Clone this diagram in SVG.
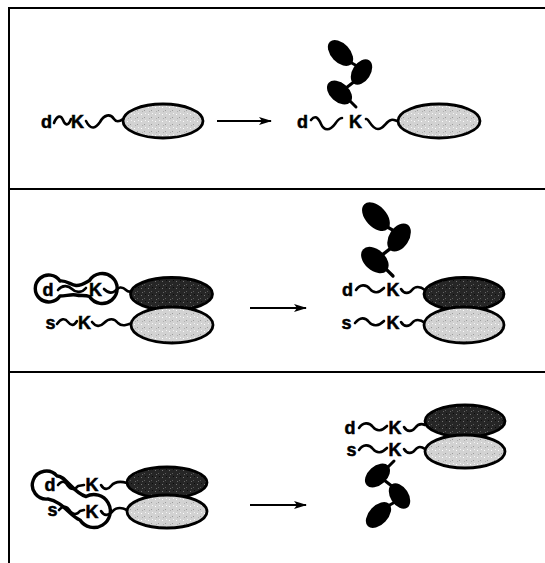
<svg xmlns="http://www.w3.org/2000/svg" width="545" height="563" viewBox="0 0 545 563">
  <style>
    .t { font-family: "Liberation Sans", Arial, sans-serif; font-weight: bold; font-size: 18px; fill: #000; stroke: #000; stroke-width: 0.5; }
    .w { fill: none; stroke: #000; stroke-width: 2.6; stroke-linecap: round; stroke-linejoin: round; }
    .light { fill: url(#stipL); stroke: #000; stroke-width: 2.8; }
    .dark { fill: url(#stipD); stroke: #000; stroke-width: 2.8; }
    .loop { fill: #fff; stroke: #000; stroke-width: 3.4; stroke-linejoin: round; }
    .frame { stroke: #000; stroke-width: 2; fill: none; }
    .arrow { stroke: #000; stroke-width: 2; fill: none; }
  </style>
  <defs>
    <pattern id="stipL" width="7" height="7" patternUnits="userSpaceOnUse">
      <rect width="7" height="7" fill="#d2d2d2"/>
      <rect x="1" y="2" width="1" height="1" fill="#fff"/>
      <rect x="4" y="5" width="1" height="1" fill="#9c9c9c"/>
      <rect x="5" y="1" width="1" height="1" fill="#f4f4f4"/>
      <rect x="2" y="6" width="1" height="1" fill="#b0b0b0"/>
    </pattern>
    <pattern id="stipD" width="7" height="7" patternUnits="userSpaceOnUse">
      <rect width="7" height="7" fill="#262626"/>
      <rect x="1" y="1" width="1" height="1" fill="#727272"/>
      <rect x="4" y="4" width="1" height="1" fill="#5a5a5a"/>
      <rect x="5" y="0" width="1" height="1" fill="#0c0c0c"/>
      <rect x="2" y="5" width="1" height="1" fill="#666"/>
    </pattern>
    <marker id="head" viewBox="0 0 13 8" refX="12" refY="4" markerWidth="13" markerHeight="8" markerUnits="userSpaceOnUse" orient="auto">
      <path d="M0,0 L13,4 L0,8 L3,4 Z" fill="#000"/>
    </marker>
    <!-- oligosaccharide chain: three sugar units on a stalk, origin at the stalk end -->
    <g id="chain">
      <line x1="0" y1="0" x2="-7" y2="-7" stroke="#000" stroke-width="3" stroke-linecap="round"/>
      <line x1="-10" y1="-19" x2="-1" y2="-26" stroke="#000" stroke-width="3"/>
      <line x1="-6" y1="-45" x2="1" y2="-41" stroke="#000" stroke-width="3"/>
      <ellipse cx="0" cy="0" rx="14.5" ry="9.5" transform="translate(-16.5,-14.5) rotate(42)" fill="#000"/>
      <ellipse cx="0" cy="0" rx="14" ry="9" transform="translate(5.5,-35) rotate(-57)" fill="#000"/>
      <ellipse cx="0" cy="0" rx="15.5" ry="9.5" transform="translate(-15.5,-54) rotate(47)" fill="#000"/>
    </g>
  </defs>

  <rect width="545" height="563" fill="#fff"/>

  <!-- frame and panel dividers -->
  <g id="frame">
    <line class="frame" x1="8" y1="8" x2="545" y2="8"/>
    <line class="frame" x1="9" y1="8" x2="9" y2="563"/>
    <line class="frame" x1="9" y1="189" x2="545" y2="189"/>
    <line class="frame" x1="9" y1="372" x2="545" y2="372"/>
  </g>

  <!-- panel 1 -->
  <g id="p1-left">
    <path class="w" d="M54,123 C57,115 61,115 63,120 C65,125 68,127 71,119"/>
    <path class="w" d="M86,121 C91,131 96,128 100,122 C104,115 110,113 114,119 C116,122 119,122 123,119"/>
    <ellipse class="light" cx="163" cy="121" rx="40" ry="17"/>
    <text class="t" x="41" y="127.5">d</text>
    <text class="t" x="71" y="127.5">K</text>
  </g>
  <g id="p1-right">
    <path class="w" d="M311,120 C315,115 318,117 321,124 C324,131 330,131 335,124 C337,121 339,118 342,118"/>
    <path class="w" d="M366,119 C369,118 371,129 378,129 C384,129 386,121 391,120 C394,119 396,121 398,121"/>
    <ellipse class="light" cx="439" cy="121" rx="41" ry="17"/>
    <text class="t" x="297" y="127.5">d</text>
    <text class="t" x="349" y="127.5">K</text>
    <use href="#chain" transform="translate(356,107)"/>
  </g>

  <!-- panel 2 -->
  <g id="p2-left">
    <path class="loop" d="M60,281 C66,280 71,285 76,285.5 C81,286 85,283 89.5,280.5 A15,15 0 1 1 89.5,296.5 C85,295 81,296 76,295 C71,294 66,296 60,296 A13.5,13.5 0 1 1 60,281 Z"/>
    <path class="w" d="M58,290 C62,285 68,285 72,289 C76,293 82,293 86,288"/>
    <path class="w" d="M104,289 C107,292 111,294 115,291 C118,287 122,286 126,290 C128,292 130,292 132,291"/>
    <ellipse class="dark" cx="171.5" cy="294" rx="41" ry="16.5"/>
    <path class="w" d="M57,324 C61,318 65,318 68,322 C71,326 74,326 77,321"/>
    <path class="w" d="M92,322 C96,327 100,327 104,323 C109,318 114,318 118,323 C122,327 127,325 132,323"/>
    <ellipse class="light" cx="172" cy="325" rx="41" ry="18"/>
    <text class="t" x="42.5" y="295.5">d</text>
    <text class="t" x="89" y="295.5">K</text>
    <text class="t" x="45.5" y="328.5">s</text>
    <text class="t" x="78" y="328.5">K</text>
  </g>
  <g id="p2-right">
    <path class="w" d="M356,290 C360,284 366,284 370,289 C374,294 379,293 384,288"/>
    <path class="w" d="M401,289 C404,294 409,294 412,290 C415,286 420,286 425,290"/>
    <ellipse class="dark" cx="464" cy="294" rx="40" ry="16.5"/>
    <path class="w" d="M355,323 C360,317 365,317 369,322 C373,327 379,326 384,321"/>
    <path class="w" d="M401,322 C404,327 409,327 412,323 C415,319 420,319 425,323"/>
    <ellipse class="light" cx="464" cy="325" rx="40" ry="18"/>
    <text class="t" x="342" y="295.5">d</text>
    <text class="t" x="386.5" y="295.5">K</text>
    <text class="t" x="341.5" y="328.5">s</text>
    <text class="t" x="386.5" y="328.5">K</text>
    <use href="#chain" transform="translate(393,276) scale(1.1)"/>
  </g>

  <!-- panel 3 -->
  <g id="p3-left">
    <path class="loop" d="M57,476 C65,475 73,493 86,496.5 A16.5,16.5 0 1 1 80,520 C70,516 62,501 48,499 A14,14 0 1 1 57,476 Z"/>
    <path class="w" d="M58,485 C62,480 65,481 68,486 C71,490 75,490 78,486 L84,485"/>
    <path class="w" d="M101,485 C104,490 108,490 111,486 C115,481 120,481 127,483"/>
    <ellipse class="dark" cx="167" cy="482.5" rx="40" ry="15.5"/>
    <path class="w" d="M59,510 C63,505 67,506 70,511 C73,515 77,515 80,511 L84,510"/>
    <path class="w" d="M101,511 C104,516 108,516 112,512 C116,507 121,507 127,510"/>
    <ellipse class="light" cx="167" cy="511.5" rx="40" ry="16.5"/>
    <text class="t" x="44.5" y="490.5">d</text>
    <text class="t" x="85.5" y="490.5">K</text>
    <text class="t" x="47.5" y="515.5">s</text>
    <text class="t" x="85.5" y="517.5">K</text>
  </g>
  <g id="p3-right">
    <path class="w" d="M359,428 C363,422 369,422 373,427 C377,432 382,431 387,426"/>
    <path class="w" d="M404,427 C407,432 412,432 415,428 C418,424 421,423 425,425"/>
    <ellipse class="dark" cx="465" cy="421" rx="40" ry="16"/>
    <path class="w" d="M359,450 C363,444 369,444 373,449 C377,454 382,453 387,448"/>
    <path class="w" d="M404,449 C407,454 412,454 415,450 C418,446 421,446 425,449"/>
    <ellipse class="light" cx="465" cy="451.5" rx="40" ry="16.5"/>
    <text class="t" x="344.5" y="433.5">d</text>
    <text class="t" x="388.5" y="433.5">K</text>
    <text class="t" x="346.5" y="455.5">s</text>
    <text class="t" x="388.5" y="455.5">K</text>
    <use href="#chain" transform="translate(394,461) scale(1,-1)"/>
  </g>

  <!-- reaction arrows -->
  <g id="connectors">
    <line class="arrow" x1="217" y1="121" x2="271" y2="121" marker-end="url(#head)"/>
    <line class="arrow" x1="250" y1="308" x2="306" y2="308" marker-end="url(#head)"/>
    <line class="arrow" x1="250" y1="505" x2="306" y2="505" marker-end="url(#head)"/>
  </g>
</svg>
